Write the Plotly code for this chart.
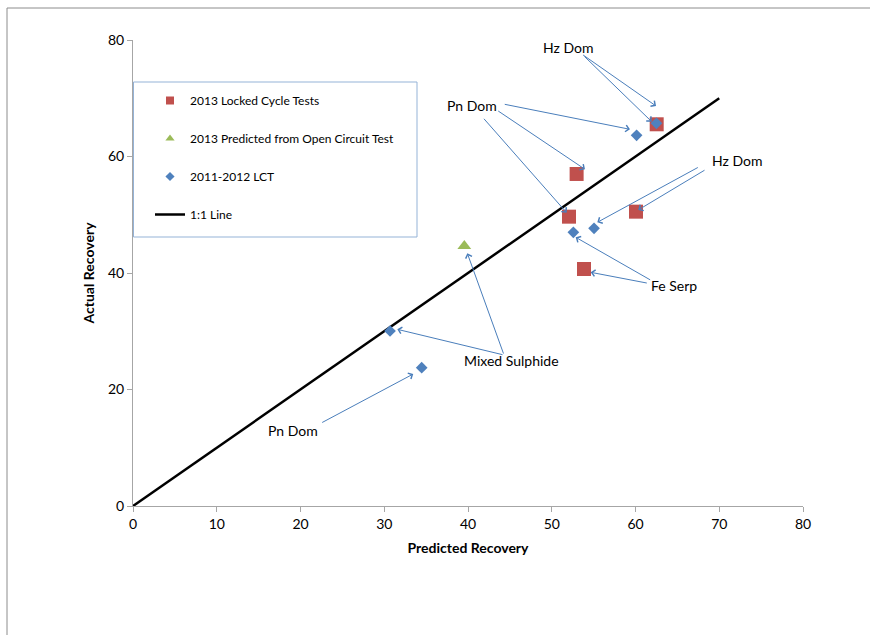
import plotly.graph_objects as go

# ---- data ----
lct2013_x = [62.53, 52.97, 52.06, 60.06, 53.85]
lct2013_y = [65.53, 57.00, 49.67, 50.53, 40.69]

oct2013_x = [39.56]
oct2013_y = [44.64]

lct1112_x = [62.50, 60.13, 55.05, 52.58, 30.69, 34.47]
lct1112_y = [65.70, 63.64, 47.67, 46.98, 30.04, 23.75]

line_x = [0, 70]
line_y = [0, 70]

label_text = ["Hz Dom", "Pn Dom", "Hz Dom", "Fe Serp", "Mixed Sulphide", "Pn Dom"]
label_x = [51.94, 40.48, 72.08, 64.60, 45.22, 19.07]
label_y = [78.63, 68.84, 59.40, 37.94, 25.06, 12.88]

# arrows: tail -> head (data units)
arrow_tail_x = [53.57, 53.73, 44.21, 43.43, 41.75, 67.62, 68.42, 61.93, 61.53, 44.30, 44.30, 22.41]
arrow_tail_y = [77.60, 77.42, 69.01, 67.98, 66.73, 58.25, 57.80, 38.68, 38.23, 25.92, 25.92, 14.20]
arrow_head_x = [62.45, 61.94, 59.34, 53.97, 51.78, 55.44, 60.33, 52.86, 54.65, 39.92, 31.56, 33.46]
arrow_head_y = [68.67, 65.97, 64.67, 57.80, 50.35, 48.70, 50.82, 46.13, 40.12, 43.38, 30.33, 22.66]

x_ticks = [0, 10, 20, 30, 40, 50, 60, 70, 80]
y_ticks = [0, 20, 40, 60, 80]

RED = "#C0504D"
GREEN = "#9BBB59"
BLUE = "#4F81BD"
FONT = "Lato, Liberation Sans, sans-serif"

fig = go.Figure()

# 1:1 line (drawn first, under markers)
fig.add_trace(go.Scatter(x=line_x, y=line_y, mode="lines",
                         line=dict(color="black", width=2.5),
                         name="1:1 Line", showlegend=False, hoverinfo="skip"))
fig.add_trace(go.Scatter(x=lct2013_x, y=lct2013_y, mode="markers",
                         marker=dict(symbol="square", size=14, color=RED),
                         name="2013 Locked Cycle Tests", showlegend=False))
fig.add_trace(go.Scatter(x=oct2013_x, y=oct2013_y, mode="markers",
                         marker=dict(symbol="triangle-up", size=12, color=GREEN),
                         name="2013 Predicted from Open Circuit Test", showlegend=False))
fig.add_trace(go.Scatter(x=lct1112_x, y=lct1112_y, mode="markers",
                         marker=dict(symbol="diamond", size=9, color=BLUE),
                         name="2011-2012 LCT", showlegend=False))

# legend entries
leg = [
    ("2013 Locked Cycle Tests", dict(mode="markers", marker=dict(symbol="square", size=8, color=RED))),
    ("2013 Predicted from Open Circuit Test", dict(mode="markers", marker=dict(symbol="triangle-up", size=8, color=GREEN))),
    ("2011-2012 LCT", dict(mode="markers", marker=dict(symbol="diamond", size=7, color=BLUE))),
    ("1:1 Line", dict(mode="lines", line=dict(color="black", width=2.5))),
]
for i, (nm, kw) in enumerate(leg):
    fig.add_trace(go.Scatter(x=[None], y=[None], name=nm, legendgroup=f"g{i}",
                             showlegend=True, **kw))

annotations = []
for t, x, y in zip(label_text, label_x, label_y):
    annotations.append(dict(x=x, y=y, xref="x", yref="y", text=t, showarrow=False,
                            font=dict(family=FONT, size=14, color="black")))
for tx, ty, hx, hy in zip(arrow_tail_x, arrow_tail_y, arrow_head_x, arrow_head_y):
    annotations.append(dict(x=hx, y=hy, ax=tx, ay=ty, xref="x", yref="y",
                            axref="x", ayref="y", text="", showarrow=True,
                            arrowhead=4, arrowsize=1.3, arrowwidth=1,
                            arrowcolor="#4A7EBB", standoff=0, startstandoff=0))

W, H = 870, 635
L, R, T, B = 133, 67, 40, 129
pw, ph = W - L - R, H - T - B

def px(xp):
    return (xp - L) / pw

def py(yp):
    return (H - B - yp) / ph

shapes = [
    # outer frame (top and left edges)
    dict(type="line", xref="paper", yref="paper", x0=px(7), y0=py(8), x1=px(870), y1=py(8),
         line=dict(color="#8C8C8C", width=1)),
    dict(type="line", xref="paper", yref="paper", x0=px(7), y0=py(8), x1=px(7), y1=py(635),
         line=dict(color="#8C8C8C", width=1)),
    # legend box
    dict(type="rect", xref="paper", yref="paper", x0=px(133.5), y0=py(237), x1=px(417), y1=py(82),
         line=dict(color="#95B3D7", width=1), fillcolor="white", layer="below"),
]

fig.update_layout(
    width=W, height=H,
    margin=dict(l=L, r=R, t=T, b=B, pad=0),
    paper_bgcolor="white", plot_bgcolor="white",
    font=dict(family=FONT, size=13, color="black"),
    showlegend=True,
    legend=dict(x=px(150), y=py(86), xanchor="left", yanchor="top",
                bgcolor="rgba(0,0,0,0)", borderwidth=0,
                font=dict(family=FONT, size=12, color="black"),
                tracegroupgap=19, itemclick=False),
    xaxis=dict(range=[0, 80], tickvals=x_ticks, showgrid=False, zeroline=False,
               showline=True, linecolor="#A6A6A6", linewidth=1,
               ticks="outside", ticklen=5, tickcolor="#A6A6A6",
               tickfont=dict(family=FONT, size=14),
               title=dict(text="<b>Predicted Recovery</b>", font=dict(family=FONT, size=14), standoff=12)),
    yaxis=dict(range=[0, 80], tickvals=y_ticks, showgrid=False, zeroline=False,
               showline=True, linecolor="#A6A6A6", linewidth=1,
               ticks="outside", ticklen=5, tickcolor="#A6A6A6",
               tickfont=dict(family=FONT, size=14),
               title=dict(text="<b>Actual Recovery</b>", font=dict(family=FONT, size=14), standoff=10)),
    annotations=annotations,
    shapes=shapes,
)

fig.write_html("out.html", config={"displayModeBar": False},
               post_script="document.body.style.margin='0px';document.body.style.overflow='hidden';")
